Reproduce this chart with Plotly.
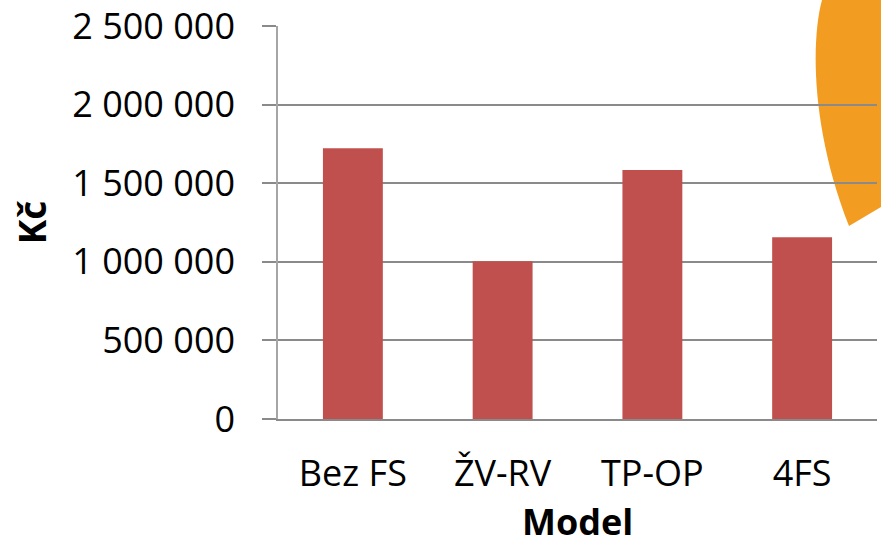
import plotly.graph_objects as go

categories = ["Bez FS", "ŽV-RV", "TP-OP", "4FS"]
values = [1722000, 1003000, 1584000, 1156000]
tick_vals = [0, 500000, 1000000, 1500000, 2000000, 2500000]
tick_text = ["0", "500 000", "1 000 000", "1 500 000", "2 000 000", "2 500 000"]

W, H = 881, 549
L, R, T, B = 278, 4, 26, 130
PW, PH = W - L - R, H - T - B


def px(x):
    return (x - L) / PW


def py(y):
    return (H - B - y) / PH


FONT = "Open Sans"

fig = go.Figure()
fig.add_trace(go.Bar(x=categories, y=values, marker=dict(color="#C0504D", line=dict(width=0))))

deco = (f"M {px(822)},{py(0)} C {px(811)},{py(40)} {px(811)},{py(130)} {px(849)},{py(226)} "
        f"L {px(881)},{py(207)} L {px(881)},{py(0)} Z")
fig.add_shape(type="path", path=deco, xref="paper", yref="paper",
              fillcolor="#F29D22", line=dict(width=0), layer="below")

# x-axis title placed as an annotation (axis title standoff is ignored without automargin)
fig.add_annotation(text="<b>Model</b>", xref="paper", yref="paper", x=0.5, y=py(548),
                   xanchor="center", yanchor="bottom", showarrow=False,
                   font=dict(size=36, family=FONT, color="black"))

fig.update_layout(
    width=W, height=H,
    margin=dict(l=L, r=R, t=T, b=B, autoexpand=False),
    paper_bgcolor="white", plot_bgcolor="rgba(0,0,0,0)",
    bargap=0.6, showlegend=False,
    font=dict(family=FONT, color="black", size=36),
)
fig.update_xaxes(
    showgrid=False, showline=True, linecolor="#8a8a8a", linewidth=1.5,
    ticks="", tickfont=dict(size=36, family=FONT), ticklabelstandoff=22,
    automargin=False,
)
fig.update_yaxes(
    range=[0, 2500000], tickvals=tick_vals, ticktext=tick_text,
    showgrid=True, gridcolor="#8a8a8a", gridwidth=1.5,
    showline=True, linecolor="#a6a6a6", linewidth=1.5,
    ticks="outside", ticklen=14, tickcolor="#8a8a8a", tickwidth=1.5,
    tickfont=dict(size=36, family=FONT), ticklabelstandoff=20,
    ticklabeloverflow="allow",
    zeroline=False,
    title=dict(text="<b>Kč</b>", font=dict(size=37, family=FONT), standoff=14),
    automargin=False,
)

fig.write_html(
    "out.html",
    config={"displayModeBar": False},
    post_script="document.body.style.margin='0';document.body.style.overflow='hidden';",
)
